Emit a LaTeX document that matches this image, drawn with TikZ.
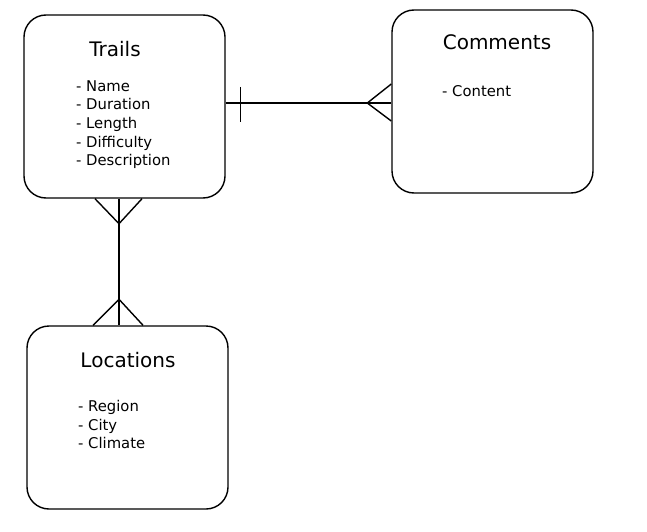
\documentclass[tikz,border=0pt]{standalone}
\usepackage{fontspec}
\setmainfont{DejaVu Sans}
\usetikzlibrary{calc}
\begin{document}
\begin{tikzpicture}[x=1pt,y=-1pt,
  entity/.style={draw=black, line width=1.4pt, rounded corners=22pt, minimum width=201pt, minimum height=183pt, inner sep=0pt, fill=white},
  title/.style={font=\fontsize{20}{24}\selectfont, anchor=base, inner sep=0pt},
  item/.style={font=\fontsize{14.8}{18}\selectfont, anchor=base west, inner sep=0pt},
  conn/.style={draw=black, line width=1.4pt}]
\useasboundingbox[fill=white] (0,0) rectangle (647,532);
% entities
\node[entity] (trails) at (124.5,106.5) {};
\node[entity] (comments) at (492.5,101.5) {};
\node[entity] (locations) at (127.5,417.5) {};
% titles
\node[title] (ttrails) at (115,57) {Trails};
\node[title] (tcomments) at (497,50) {Comments};
\node[title] (tlocations) at (128,367) {Locations};
% items
\node[item] (t1) at (76,91.5) {- Name};
\node[item] (t2) at (76,110) {- Duration};
\node[item] (t3) at (76,128.5) {- Length};
\node[item] (t4) at (76,147) {- Difficulty};
\node[item] (t5) at (76,165.5) {- Description};
\node[item] (c1) at (442,96.5) {- Content};
\node[item] (l1) at (78,411.5) {- Region};
\node[item] (l2) at (78,430) {- City};
\node[item] (l3) at (78,448.5) {- Climate};
% Trails -- Comments
\coordinate (a1) at ($(trails.east)+(0,-3.5)$);
\coordinate (a2) at ($(comments.west)+(0,1.5)$);
\draw[conn] (a1) -- (a2);
\coordinate (bar1) at ($(a1)+(15,-16)$);
\coordinate (bar2) at ($(a1)+(15,19)$);
\draw[conn] (bar1) -- (bar2);
\coordinate (cfa) at ($(a2)+(-24,0)$);
\coordinate (cfb) at ($(a2)+(0,-19)$);
\coordinate (cfc) at ($(a2)+(0,18)$);
\draw[conn] (cfb) -- (cfa) -- (cfc);
% Trails -- Locations
\coordinate (v1) at ($(trails.south)+(-5.5,0)$);
\coordinate (v2) at ($(locations.north)+(-8.5,0)$);
\draw[conn] (v1) -- (v2);
\coordinate (ta) at ($(v1)+(0,25)$);
\coordinate (tb) at ($(v1)+(-24,0)$);
\coordinate (tc) at ($(v1)+(23,0)$);
\draw[conn] (tb) -- (ta) -- (tc);
\coordinate (ba) at ($(v2)+(0,-26)$);
\coordinate (bb) at ($(v2)+(-26,0)$);
\coordinate (bc) at ($(v2)+(24,0)$);
\draw[conn] (bb) -- (ba) -- (bc);
\end{tikzpicture}
\end{document}
